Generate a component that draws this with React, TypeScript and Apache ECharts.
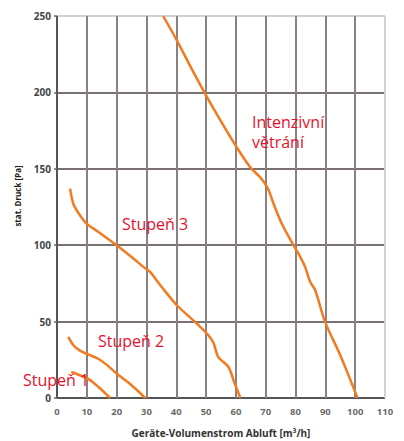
import React, { useEffect, useRef } from "react";
import * as echarts from "echarts";

const xTicks = [0, 10, 20, 30, 40, 50, 60, 70, 80, 90, 100, 110];
const yTicks = [0, 50, 100, 150, 200, 250];

const stupen1Flow = [4.8, 7.5, 10.5, 14, 17.8];
const stupen1Pressure = [17, 15, 12.5, 7, 0];

const stupen2Flow = [3.8, 5.5, 7.7, 10.5, 13.5, 16.5, 20, 25, 29.6];
const stupen2Pressure = [40, 34.5, 31, 28.5, 26, 22, 16, 8.3, 0];

const stupen3Flow = [4.4, 5.5, 7.7, 10, 13.9, 20, 25, 29.5, 31.2, 35.1, 40.2, 46.3, 50.8, 52.5, 54.1, 57.5, 59.5, 61.5];
const stupen3Pressure = [137, 127, 119.6, 114, 108.7, 100, 92.3, 85, 82.5, 72.7, 60.7, 49.8, 41, 36, 26.8, 20.3, 10, 0];

const intenzFlow = [35.6, 40.2, 45, 49.7, 55, 60.3, 64.8, 68, 69.5, 71, 72.6, 75.4, 79.3, 81, 83.2, 84.9, 86.6, 89.9, 95, 100.8];
const intenzPressure = [250, 234, 216, 199, 181, 164, 151, 144.7, 141, 136, 127.3, 114, 100, 94.5, 85.8, 76, 70.5, 49.8, 28, 0];

const curveColor = "#f27a1f";
const labelColor = "#e8112d";

function pairs(xs: number[], ys: number[]) {
  return xs.map((x, i) => [x, ys[i]]);
}

export default function App() {
  const ref = useRef<HTMLDivElement>(null);
  useEffect(() => {
    if (!ref.current) return;
    const chart = echarts.init(ref.current, null, { renderer: "svg" });
    const gridColorsX = xTicks.map((t, i) => (i === 0 ? "#555" : i === xTicks.length - 1 ? "#d2d2d2" : "#8a8282"));
    const gridColorsY = yTicks.map((t, i) => (i === 0 ? "#555" : i === yTicks.length - 1 ? "#d2d2d2" : "#7a7272"));
    const lineSeries = (name: string, xs: number[], ys: number[]) => ({
      name,
      type: "line",
      data: pairs(xs, ys),
      smooth: 0.3,
      showSymbol: false,
      lineStyle: { color: curveColor, width: 2.5 },
      z: 5,
    });
    const font = '"Open Sans", sans-serif';
    const txt = (text: string, x: number, y: number) => ({
      type: "text",
      x,
      y,
      style: { text, fill: labelColor, font: `16px ${font}`, verticalAlign: "middle" },
      z: 10,
    });
    chart.setOption({
      animation: false,
      backgroundColor: "#ffffff",
      grid: { left: 57, right: 19, top: 16, bottom: 43, containLabel: false, outerBoundsMode: "none" },
      xAxis: {
        type: "value",
        min: 0,
        max: 110,
        interval: 10,
        name: "Geräte-Volumenstrom Abluft [m³/h]",
        nameLocation: "middle",
        nameGap: 30,
        nameTextStyle: { fontFamily: font, fontWeight: "bold", fontSize: 10, color: "#333" },
        axisLine: { show: false },
        axisTick: { show: false },
        axisLabel: { fontFamily: font, fontSize: 9.5, color: "#6a6a6a", fontWeight: "bold", margin: 8 },
        splitLine: { show: true, lineStyle: { color: gridColorsX, width: 2 } },
      },
      yAxis: {
        type: "value",
        min: 0,
        max: 250,
        interval: 50,
        name: "stat. Druck [Pa]",
        nameLocation: "middle",
        nameGap: 36,
        nameRotate: 90,
        nameTextStyle: { fontFamily: font, fontWeight: "bold", fontSize: 8, color: "#222", padding: [0, 0, 0, 22] },
        axisLine: { show: false },
        axisTick: { show: true, length: 3, lineStyle: { color: "#666", width: 1.5 } },
        axisLabel: { fontFamily: font, fontSize: 10, color: "#444", fontWeight: "bold", margin: 6 },
        splitLine: { show: true, lineStyle: { color: gridColorsY, width: 2 } },
      },
      series: [
        lineSeries("Stupeň 1", stupen1Flow, stupen1Pressure),
        lineSeries("Stupeň 2", stupen2Flow, stupen2Pressure),
        lineSeries("Stupeň 3", stupen3Flow, stupen3Pressure),
        lineSeries("Intenzivní větrání", intenzFlow, intenzPressure),
      ],
      graphic: [
        txt("Stupeň 3", 122, 224),
        txt("Stupeň 2", 98, 341),
        txt("Stupeň 1", 23, 380),
        txt("Intenzivní", 252, 122),
        txt("větrání", 252, 142),
      ],
    });
    return () => chart.dispose();
  }, []);
  return (
    <div
      ref={ref}
      style={{ position: "fixed", left: 0, top: 0, width: 404, height: 441, background: "#fff" }}
    />
  );
}
